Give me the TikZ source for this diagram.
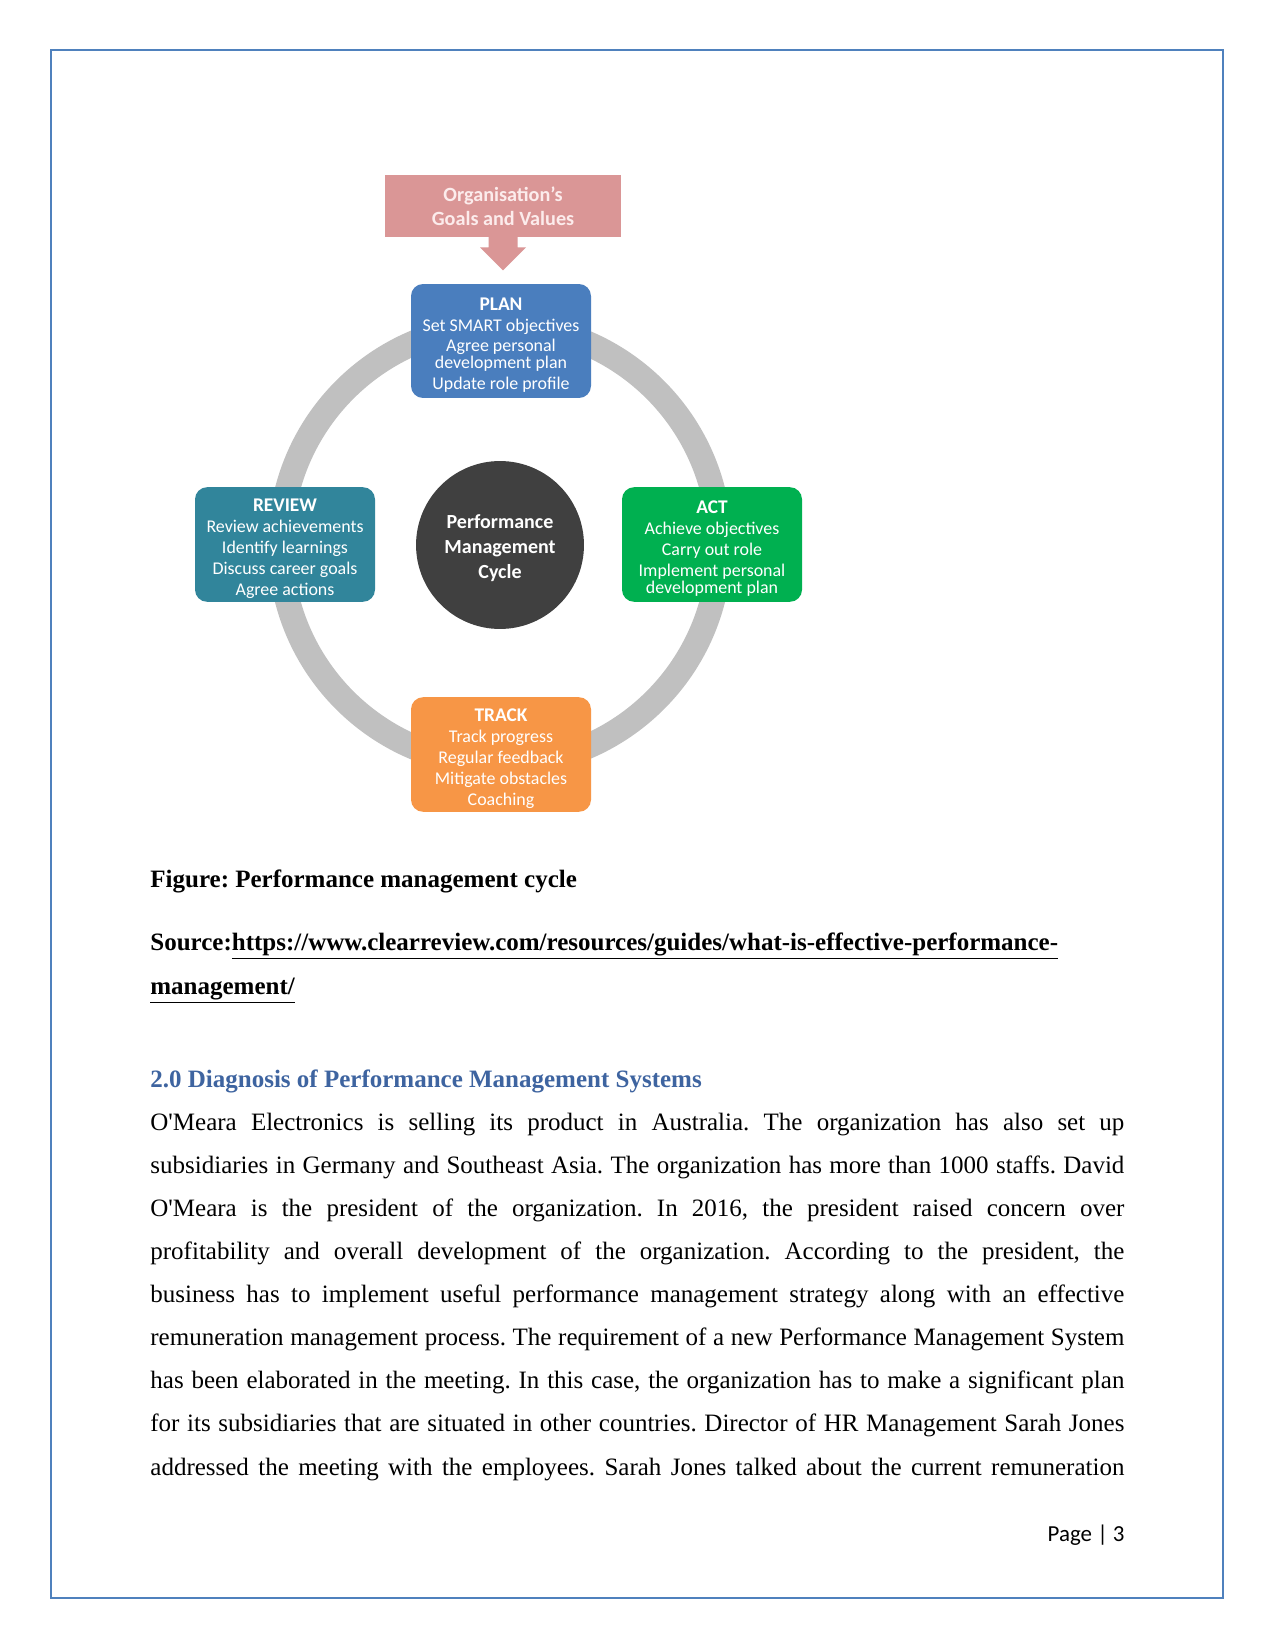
\documentclass[tikz,border=0pt]{standalone}
\usepackage{fontspec}
\setmainfont{Liberation Serif}
\newfontfamily\calfont{Carlito}
\usetikzlibrary{calc}
\frenchspacing
\definecolor{borderc}{RGB}{79,129,189}
\definecolor{orgc}{RGB}{218,150,150}
\definecolor{orgtext}{RGB}{252,236,236}
\definecolor{planc}{RGB}{74,126,190}
\definecolor{reviewc}{RGB}{49,133,155}
\definecolor{actc}{RGB}{0,176,80}
\definecolor{trackc}{RGB}{247,150,70}
\definecolor{ringc}{RGB}{192,192,192}
\definecolor{darkc}{RGB}{64,64,64}
\definecolor{headc}{RGB}{62,100,160}
\tikzset{
  stagebox/.style={rounded corners=5.8pt, minimum width=86.4pt, minimum height=55pt,
    inner sep=0pt},
  boxtext/.style={inner sep=0pt, text=white, align=center,
    font=\calfont\fontsize{8.6}{10}\selectfont},
  pagetext/.style={anchor=base west, inner sep=0pt, font=\fontsize{12}{14}\selectfont}
}
\newcommand{\boxtitle}[1]{{\fontsize{9.3}{10}\selectfont\bfseries #1}}
\newcommand{\ulink}[1]{\underline{#1}}
\begin{document}
\begin{tikzpicture}[x=0.48pt,y=-0.48pt]
\useasboundingbox (0,0) rectangle (1275,1651);
\fill[white] (0,0) rectangle (1275,1651);
\draw[borderc, line width=1.2pt] (51,50) rectangle (1223,1598);

% ring
\coordinate (c) at (500,545);
\draw[ringc, line width=12pt] (c) circle[radius=105.4pt];

% goals box and block arrow
\node[fill=orgc, minimum width=113.3pt, minimum height=29.8pt, inner sep=0pt,
  text=orgtext, align=center, font=\calfont\bfseries\fontsize{9.7}{11.5}\selectfont]
  (org) at (503,206) {Organisation’s\\Goals and Values};
\fill[orgc] ($(org.south)+(-14.5,-1)$) -- ($(org.south)+(14.5,-1)$) -- ($(org.south)+(14.5,10)$)
  -- ($(org.south)+(23,10)$) -- ($(org.south)+(0,33)$) -- ($(org.south)+(-23,10)$)
  -- ($(org.south)+(-14.5,10)$) -- cycle;

% stage boxes
\node[stagebox, fill=planc, minimum height=54.7pt] (plan) at (501,341) {};
\node[boxtext] (plantext) at ([yshift=-2pt]plan.center)
  {\boxtitle{PLAN}\\Set SMART objectives\\Agree personal\\[-1.8pt]development plan\\Update role profile};
\node[stagebox, fill=reviewc] (review) at (285,544.5) {};
\node[boxtext] (reviewtext) at ([yshift=-2pt]review.center)
  {\boxtitle{REVIEW}\\Review achievements\\Identify learnings\\Discuss career goals\\Agree actions};
\node[stagebox, fill=actc] (act) at (712,544.5) {};
\node[boxtext] (acttext) at ([yshift=-2pt]act.center)
  {\boxtitle{ACT}\\Achieve objectives\\Carry out role\\Implement personal\\[-1.8pt]development plan};
\node[stagebox, fill=trackc] (track) at (501,754.5) {};
\node[boxtext] (tracktext) at ([yshift=-2pt]track.center)
  {\boxtitle{TRACK}\\Track progress\\Regular feedback\\Mitigate obstacles\\Coaching};

% centre
\node[circle, fill=darkc, minimum size=80.6pt, inner sep=0pt] (pmc) at (c) {};
\node[inner sep=0pt, text=white, align=center,
  font=\calfont\bfseries\fontsize{9.6}{12}\selectfont] (pmctext) at ([yshift=-1.3pt]pmc.center)
  {Performance\\Management\\Cycle};

% page text
\node[pagetext, font=\bfseries\fontsize{12}{14}\selectfont] (cap) at (150,887)
  {Figure: Performance management cycle};
\node[pagetext, font=\bfseries\fontsize{12}{14}\selectfont] (src1) at (150,950)
  {Source:\ulink{https://www.clearreview.com/resources/guides/what-is-effective-performance-}};
\node[pagetext, font=\bfseries\fontsize{12}{14}\selectfont] (src2) at (150,994)
  {\ulink{management/}};
\node[pagetext, text=headc, font=\bfseries\fontsize{12}{14}\selectfont] (head) at (150,1087)
  {2.0 Diagnosis of Performance Management Systems};
\node[anchor=base west, inner sep=0pt] (body) at (150,1130) {%
\begin{minipage}[t]{467.5pt}\fontsize{12}{20.7}\selectfont\frenchspacing
\hbox to\hsize{O\textquotesingle Meara Electronics is selling its product in Australia. The organization has also set up}
\hbox to\hsize{subsidiaries in Germany and Southeast Asia. The organization has more than 1000 staffs. David}
\hbox to\hsize{O\textquotesingle Meara is the president of the organization. In 2016, the president raised concern over}
\hbox to\hsize{profitability and overall development of the organization. According to the president, the}
\hbox to\hsize{business has to implement useful performance management strategy along with an effective}
\hbox to\hsize{remuneration management process. The requirement of a new Performance Management System}
\hbox to\hsize{has been elaborated in the meeting. In this case, the organization has to make a significant plan}
\hbox to\hsize{for its subsidiaries that are situated in other countries. Director of HR Management Sarah Jones}
\hbox to\hsize{addressed the meeting with the employees. Sarah Jones talked about the current remuneration}
\end{minipage}};
\node[anchor=base east, inner sep=0pt, font=\calfont\fontsize{11}{13}\selectfont] (pg) at (1125,1541)
  {Page | 3};
\end{tikzpicture}
\end{document}
